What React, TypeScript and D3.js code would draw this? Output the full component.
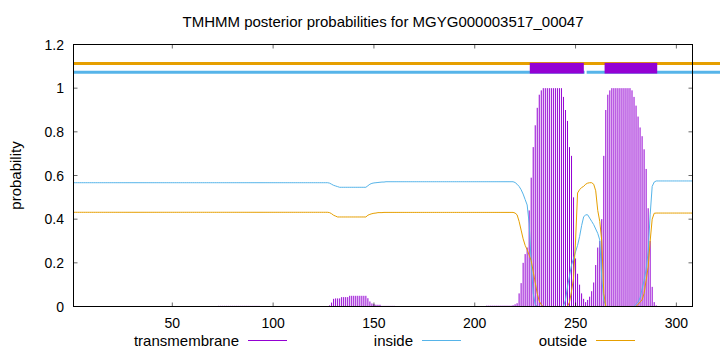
import * as d3 from 'd3';

const rep = (v: number, n: number): number[] => Array(n).fill(v);

// posterior probabilities per residue (1..308)
const inside: number[] = [
  ...rep(0.567, 127),
  0.565, 0.56, 0.555, 0.552, 0.549,
  ...rep(0.546, 14),
  0.553, 0.56, 0.564, 0.566, 0.567, 0.568, 0.569, 0.57, 0.57,
  ...rep(0.5715, 64),
  0.568, 0.56, 0.55, 0.535, 0.515, 0.49, 0.465, 0.38, 0.2, 0.06, 0.01,
  ...rep(0, 14),
  0.03, 0.09, 0.14, 0.19, 0.22, 0.25, 0.28, 0.32, 0.37, 0.41, 0.42, 0.42, 0.405, 0.39, 0.375, 0.355, 0.335, 0.305, 0.13, 0.03,
  ...rep(0, 15),
  0.01, 0.02, 0.04, 0.08, 0.12, 0.17, 0.25, 0.42, 0.55, 0.57,
  ...rep(0.575, 19),
];

const outside: number[] = [
  ...rep(0.4315, 127),
  0.43, 0.425, 0.418, 0.414,
  ...rep(0.41, 15),
  0.418, 0.422, 0.425, 0.427, 0.428, 0.43, 0.43, 0.43,
  ...rep(0.431, 65),
  0.428, 0.42, 0.39, 0.35, 0.31, 0.28, 0.26, 0.235, 0.21, 0.16, 0.11, 0.06, 0.025, 0.008,
  ...rep(0, 13),
  0.02, 0.07, 0.13, 0.3, 0.52, 0.535, 0.545, 0.55, 0.56, 0.565, 0.567, 0.567, 0.56, 0.53, 0.44, 0.39, 0.3, 0.06,
  ...rep(0, 16),
  0.01, 0.02, 0.03, 0.06, 0.12, 0.18, 0.3, 0.4, 0.427,
  ...rep(0.428, 19),
];

const transmembrane: number[] = [
  ...rep(0, 72),
  ...rep(0.003, 21),
  ...rep(0, 34),
  0.005, 0.018, 0.035, 0.037, 0.037, 0.037, 0.043, 0.043, 0.043, 0.043,
  ...rep(0.049, 9),
  0.038, 0.023, 0.014, 0.011, 0.008, 0.008, 0.008,
  ...rep(0.003, 7),
  ...rep(0.001, 45),
  ...rep(0.004, 13),
  0.006, 0.01, 0.015, 0.06, 0.107, 0.2, 0.24, 0.27, 0.44, 0.59, 0.73, 0.83, 0.91, 0.97, 0.99,
  ...rep(1, 10),
  0.96, 0.9, 0.85, 0.73, 0.69, 0.5, 0.22, 0.15, 0.1, 0.06, 0.035, 0.02, 0.03, 0.045, 0.07, 0.11, 0.19, 0.27, 0.3, 0.4, 0.69, 0.9, 0.97, 0.99,
  ...rep(1, 10),
  0.99, 0.96, 0.92, 0.87, 0.82, 0.78, 0.72, 0.63, 0.45, 0.3, 0.09, 0.02, 0.005,
  ...rep(0, 18),
];

// predicted topology bands drawn above the plot
const outsideBand: [number, number][] = [[1, 322]];
const insideBand: [number, number][] = [[1, 254.5], [255.5, 322]];
const tmBand: [number, number][] = [[227.3, 254.1], [264.4, 290.5]];

const xTicks = [50, 100, 150, 200, 250, 300];
const yTicks = [0, 0.2, 0.4, 0.6, 0.8, 1, 1.2];

const legend = [
  { name: 'transmembrane', color: '#9400d3' },
  { name: 'inside', color: '#56b4e9' },
  { name: 'outside', color: '#e69f00' },
];

const width = 720;
const height = 352;
const font = '"Liberation Sans", Arial, sans-serif';

export default function App() {
  const x = d3.scaleLinear().domain([1, 308]).range([73.5, 692.5]);
  const y = d3.scaleLinear().domain([0, 1.2]).range([306.5, 44.5]);
  const [x0, x1] = x.range();
  const [yb, yt] = y.range();

  const lineFor = d3.line<number>()
    .x((_, i) => x(i + 1))
    .y(d => y(d));

  return (
    <svg width={width} height={height} style={{ position: 'absolute', left: 0, top: 0, background: '#fff' }}
      fontFamily={font}>
      <text x={(x0 + x1) / 2} y={26.5} textAnchor="middle" fontSize={15}>
        TMHMM posterior probabilities for MGYG000003517_00047
      </text>

      {/* transmembrane impulses */}
      <g stroke="#9400d3" strokeWidth={1}>
        {transmembrane.map((v, i) => v > 0 ? (
          <line key={i} x1={x(i + 1)} x2={x(i + 1)} y1={y(0)} y2={y(v)} />
        ) : null)}
      </g>

      <path d={lineFor(inside) || ''} fill="none" stroke="#56b4e9" strokeWidth={1} />
      <path d={lineFor(outside) || ''} fill="none" stroke="#e69f00" strokeWidth={1} />

      {/* topology bands */}
      {outsideBand.map(([a, b], i) => (
        <line key={'o' + i} x1={x(a)} x2={x(b)} y1={y(1.113)} y2={y(1.113)} stroke="#e69f00" strokeWidth={3} />
      ))}
      {insideBand.map(([a, b], i) => (
        <line key={'i' + i} x1={x(a)} x2={x(b)} y1={y(1.073)} y2={y(1.073)} stroke="#56b4e9" strokeWidth={3} />
      ))}
      {tmBand.map(([a, b], i) => (
        <rect key={'t' + i} x={x(a)} width={x(b) - x(a)} y={y(1.116)} height={y(1.067) - y(1.116)} fill="#9400d3" />
      ))}

      {/* frame */}
      <rect x={x0} y={yt} width={x1 - x0} height={yb - yt} fill="none" stroke="#000" strokeWidth={1} />

      {/* y ticks */}
      {yTicks.map(t => (
        <g key={'y' + t}>
          <line x1={x0} x2={x0 + 4} y1={y(t)} y2={y(t)} stroke="#000" strokeWidth={0.6} />
          <line x1={x1 - 4} x2={x1} y1={y(t)} y2={y(t)} stroke="#000" strokeWidth={0.6} />
          <text x={64} y={y(t) + 5} textAnchor="end" fontSize={14}>{String(t)}</text>
        </g>
      ))}

      {/* x ticks */}
      {xTicks.map(t => (
        <g key={'x' + t}>
          <line x1={x(t)} x2={x(t)} y1={yb} y2={yb - 4} stroke="#000" strokeWidth={0.6} />
          <line x1={x(t)} x2={x(t)} y1={yt} y2={yt + 4} stroke="#000" strokeWidth={0.6} />
          <text x={x(t)} y={327.5} textAnchor="middle" fontSize={14}>{t}</text>
        </g>
      ))}

      <text transform={`translate(21,${(yb + yt) / 2}) rotate(-90)`} textAnchor="middle" fontSize={15}>
        probability
      </text>

      {/* legend */}
      {legend.map((d, i) => {
        const right = 239 + i * 174;
        return (
          <g key={d.name}>
            <text x={right} y={345.5} textAnchor="end" fontSize={15}>{d.name}</text>
            <line x1={right + 9} x2={right + 48} y1={340.5} y2={340.5} stroke={d.color} strokeWidth={1} />
          </g>
        );
      })}
    </svg>
  );
}
